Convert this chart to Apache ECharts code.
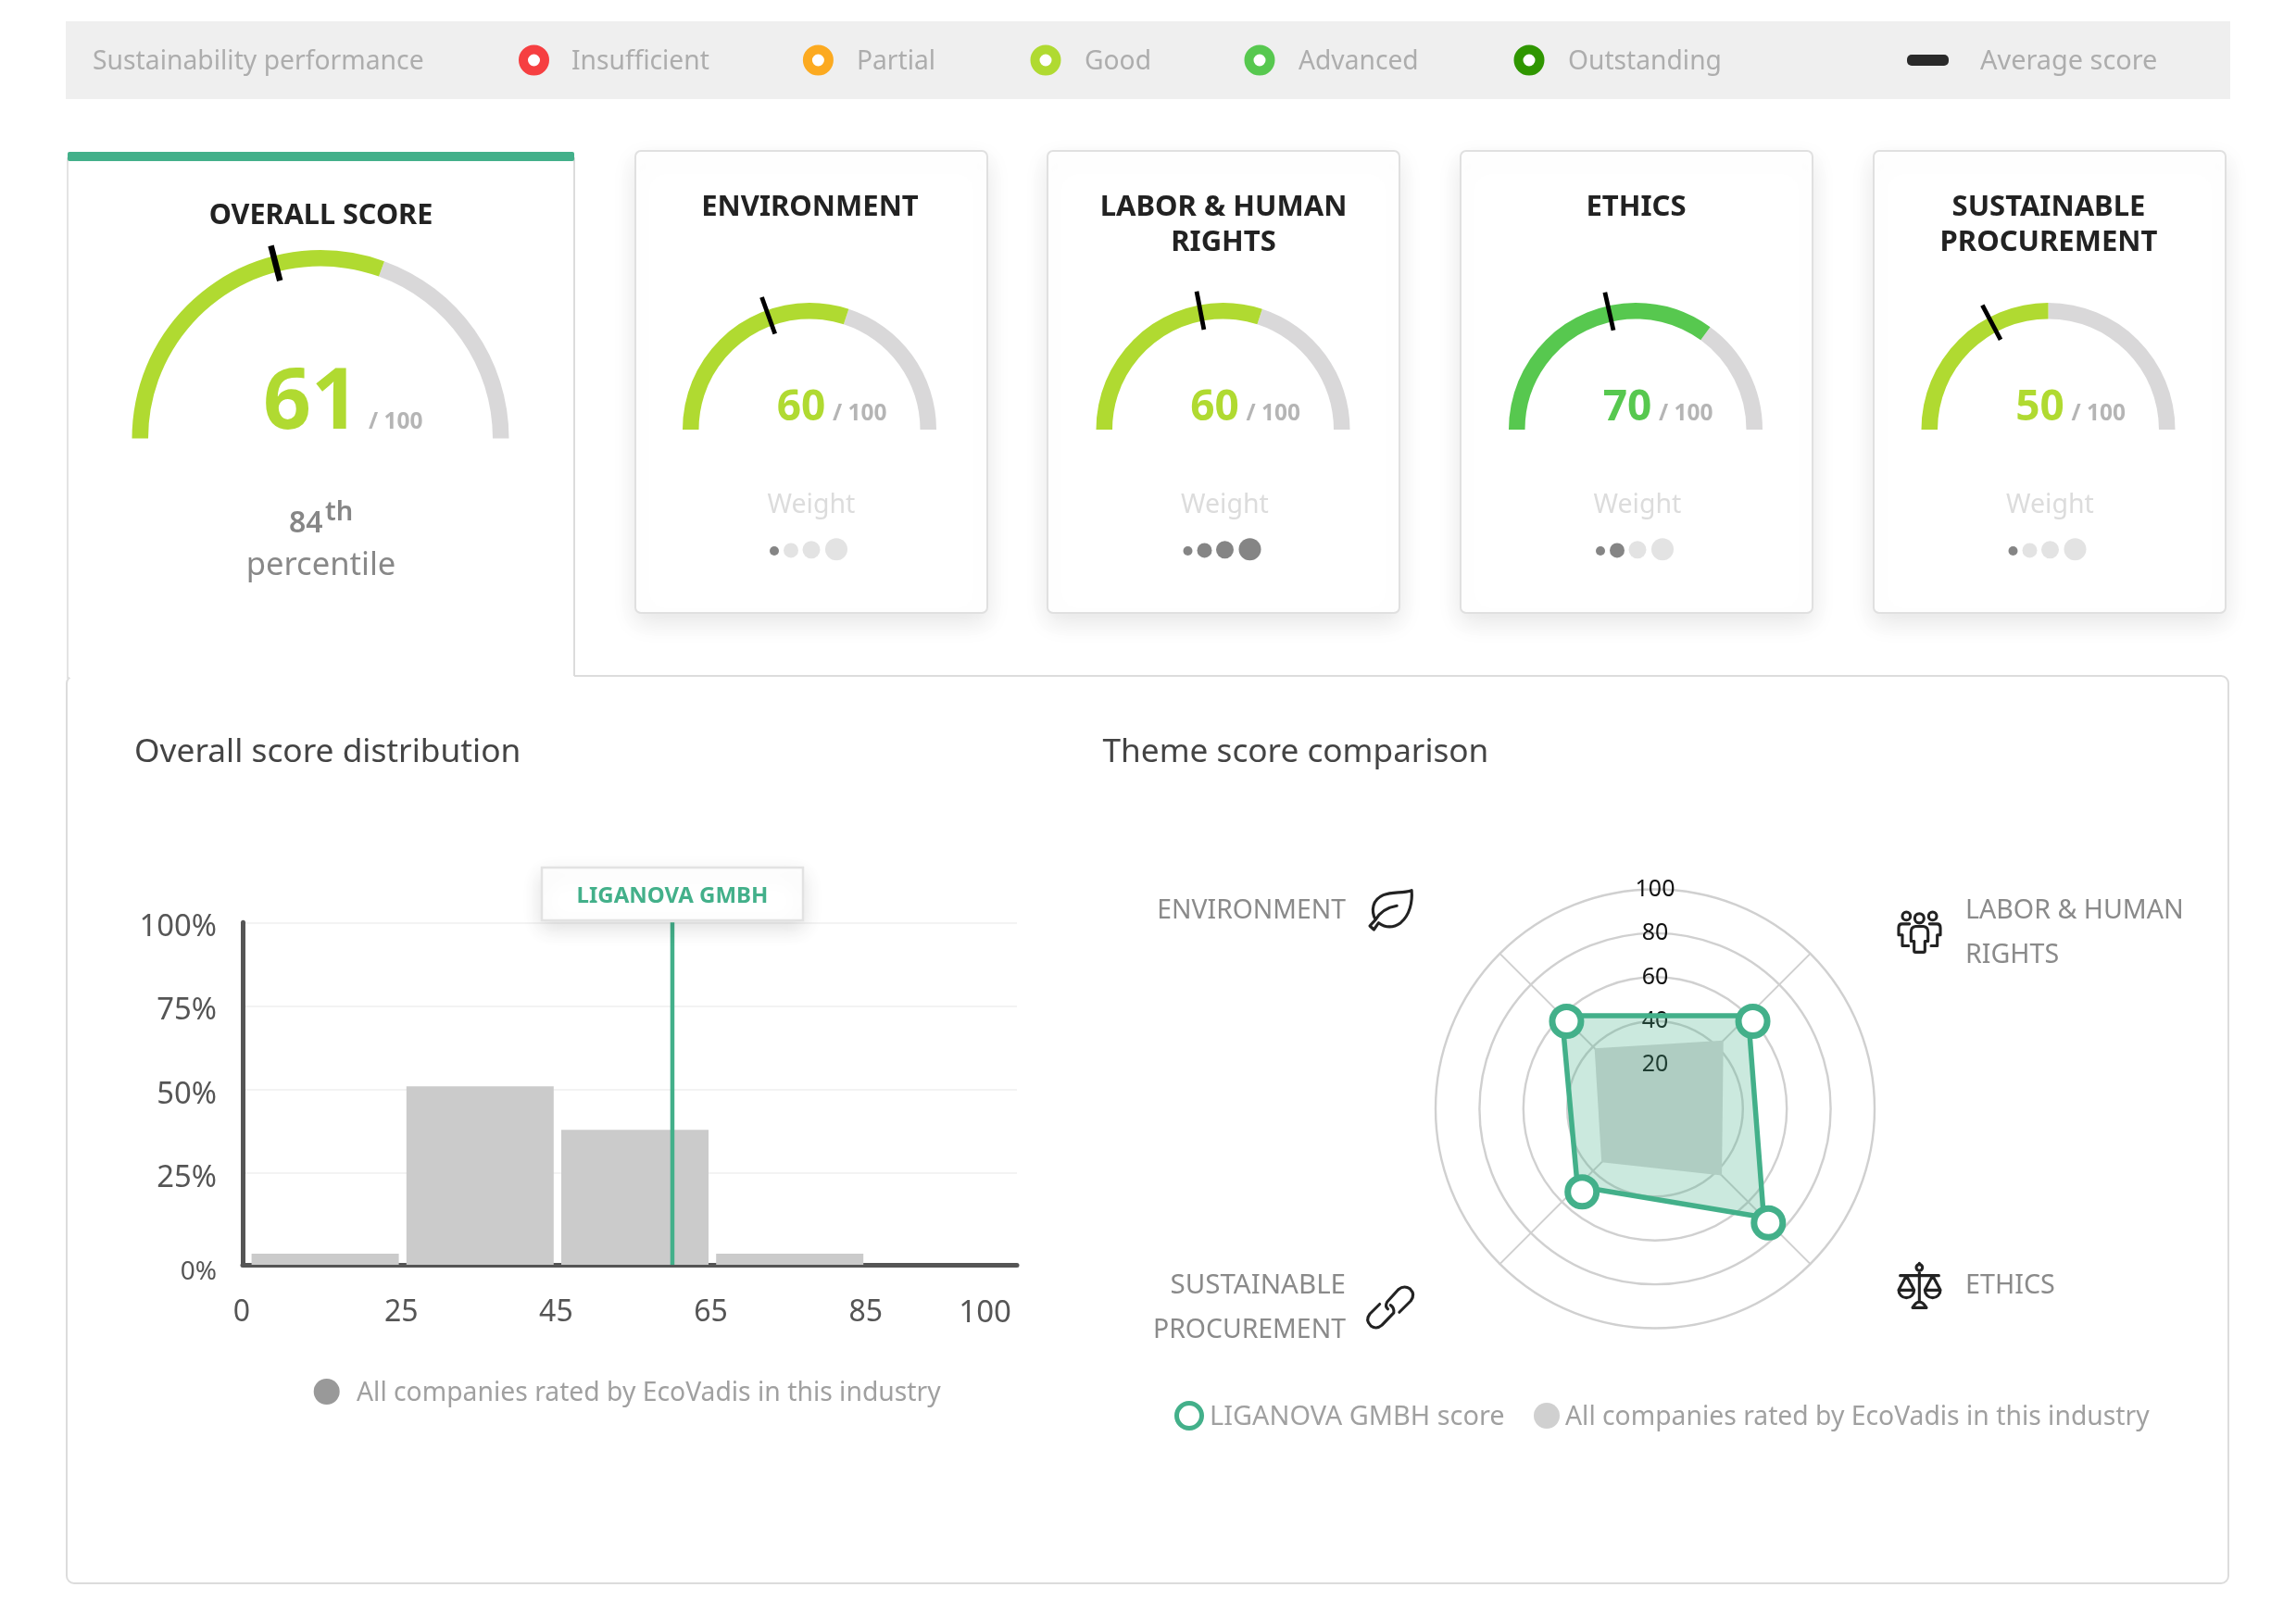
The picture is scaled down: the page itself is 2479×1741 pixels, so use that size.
<!DOCTYPE html>
<html>
<head>
<meta charset="utf-8">
<style>html,body{margin:0;padding:0;background:#fff}#c{width:2479px;height:1741px}</style>
<script src="https://cdn.jsdelivr.net/npm/echarts@6/dist/echarts.min.js"></script>
</head>
<body>
<div id="c"></div>
<script>
// ---- data ----
const legendItems = ['Insufficient','Partial','Good','Advanced','Outstanding'];
const legendColors = ['#f63f41','#fcaa20','#b0da31','#57c84f','#2f9600'];
const themes = ['ENVIRONMENT','LABOR & HUMAN RIGHTS','ETHICS','SUSTAINABLE PROCUREMENT'];
const themeTitleLines = [['ENVIRONMENT'],['LABOR & HUMAN','RIGHTS'],['ETHICS'],['SUSTAINABLE','PROCUREMENT']];
const themeScores = [60,60,70,50];
const themeAverages = [39,44,43,34.5];
const themeWeights = [1,4,2,1];
const overallScore = 61;
const overallAverage = 42;
const percentile = '84';
const histBins = ['0-25','25-45','45-65','65-85','85-100'];
const histValues = [1,51,38,1,null];
const histTicks = ['0','25','45','65','85','100'];
const histYTicks = [0,25,50,75,100];
const companyBinPosition = 2.742;
const companyName = 'LIGANOVA GMBH';
// the radar runs counter-clockwise from the upper left: ENV, SUST, ETHICS, LABOR
const radarOrder = [0,3,2,1];

// ---- style ----
const FONT = '"Noto Sans"';
const TEAL = '#43b08a', TRACK = '#d9d8d9';
const scoreColor = s => s >= 75 ? legendColors[4] : s >= 65 ? legendColors[3] : s >= 45 ? legendColors[2] : s >= 25 ? legendColors[1] : legendColors[0];

const g = [];
const T = (x,y,text,size,fill,o) => g.push(Object.assign({type:'text',x,y,z:6,silent:true,style:Object.assign({text,fontSize:size,fontFamily:FONT,fill,align:'left',verticalAlign:'middle'},o||{})}));
const box = (x,y,w,h,style,r,z) => g.push({type:'rect',z:z||0,silent:true,shape:{x,y,width:w,height:h,r:r||0},style});
const line = (x1,y1,x2,y2,stroke,lw,z) => g.push({type:'line',z:z||0,silent:true,shape:{x1,y1,x2,y2},style:{stroke,lineWidth:lw}});
const circ = (cx,cy,r,style,z) => g.push({type:'circle',z:z||1,silent:true,shape:{cx,cy,r},style});

// top band
box(71,23,2337,84,{fill:'#efefef'});
T(100,67,'Sustainability performance',28.3,'#adadad');
const legendCx = [576.5,883.4,1129,1360,1651];
const legendTx = [617,925,1171,1402,1693];
legendItems.forEach((n,i)=>{
  circ(legendCx[i],65,11.5,{fill:'#fff',stroke:legendColors[i],lineWidth:10});
  T(legendTx[i],67,n,28.2,'#adadad');
});
box(2059,59,45,12,{fill:'#2a2a2a'},5);
T(2138,67,'Average score',28.9,'#adadad');

// bottom panel
box(72,730,2334,980,{fill:'#fff',stroke:'#dcdcdc',lineWidth:2},8,0);
line(75,730,620,730,'#fff',4,1);

// overall card
line(73,170,73,733,'#e3e3e3',2,1);
line(620,170,620,730,'#dcdcdc',2,1);
box(73,164,547,10,{fill:TEAL},2,2);
T(346.5,233,'OVERALL SCORE',30.6,'#222',{align:'center',fontWeight:700});
T(336,437,String(overallScore),91,scoreColor(overallScore),{align:'center',fontWeight:700});
T(398,456,'/ 100',24.5,'#b5b5b5',{fontWeight:700});
T(312,566,percentile,32,'#868686',{fontWeight:600});
T(351,554,'th',29,'#868686',{fontWeight:600});
T(346.5,611,'percentile',34.6,'#888',{align:'center'});

// theme cards
const cardX = [686,1131,1577,2023];
const gaugeCx = [874,1320.5,1766,2211.5];
themes.forEach((t,i)=>{
  box(cardX[i],163,380,499,{fill:'#fff',stroke:'#e0e0e0',lineWidth:2,shadowBlur:26,shadowOffsetY:10,shadowColor:'rgba(0,0,0,0.10)'},6,1);
  themeTitleLines[i].forEach((l,k)=>T(gaugeCx[i]+0.5,224+38*k,l,31,'#222',{align:'center',fontWeight:700}));
  T(gaugeCx[i]-9,441,String(themeScores[i]),46,scoreColor(themeScores[i]),{align:'center',fontWeight:700});
  T(gaugeCx[i]+25,447,'/ 100',24.5,'#b5b5b5',{fontWeight:700});
  T(gaugeCx[i]+2,546,'Weight',28.5,'#dcdcdc',{align:'center'});
  const dx=[-38,-20,2,29], dr=[5,8,9.5,12];
  dx.forEach((d,k)=>circ(gaugeCx[i]+d,595-k*0.6,dr[k],{fill:k<themeWeights[i]?'#858585':'#e3e3e3'},3));
});

// section titles
T(145,813,'Overall score distribution',35.3,'#444');
T(1190.5,813,'Theme score comparison',35.2,'#444');

// histogram legend and company flag
circ(352.7,1503,14,{fill:'#999'},3);
T(385,1505,'All companies rated by EcoVadis in this industry',28.3,'#a0a0a0');
box(585,937,282,57,{fill:'#fff',stroke:'#e2e2e2',lineWidth:2.5,shadowBlur:22,shadowOffsetY:8,shadowColor:'rgba(0,0,0,0.12)'},0,10);
T(726,968,companyName,24,TEAL,{align:'center',fontWeight:700});
g[g.length-1].z=11;

// radar labels
T(1453,984,'ENVIRONMENT',28.3,'#8a8a8a',{align:'right'});
T(2122,984,'LABOR & HUMAN',28.6,'#8a8a8a');
T(2122,1032,'RIGHTS',28.6,'#8a8a8a');
T(2122,1389,'ETHICS',28.7,'#8a8a8a');
T(1453,1389,'SUSTAINABLE',29.5,'#8a8a8a',{align:'right'});
T(1453,1437,'PROCUREMENT',28.4,'#8a8a8a',{align:'right'});

// radar legend
circ(1284,1529,13.5,{fill:'#fff',stroke:TEAL,lineWidth:5},3);
T(1306,1531,companyName+' score',28.9,'#a0a0a0');
circ(1670,1529,14,{fill:'#d0d0d0'},3);
T(1690,1531,'All companies rated by EcoVadis in this industry',28.3,'#a0a0a0');

// icons: origin of a 70 px box, bounding box inside it in 210-unit space, path in that space
const iconOrigins = [[1465,950],[2040,975],[2040,1355],[1465,1380]];
const iconBoxes = [[42,35,178,162],[30,30,165,160],[30,28,165,172],[35,30,182,162]];
const iconPaths = [
 'M60 130C45 100 50 65 85 50C115 38 145 45 175 35C178 70 170 115 140 140C115 158 90 155 70 140L55 162L42 150L60 130C75 105 100 90 128 85',
 'M42 45A13 13 0 1 1 68 45A13 13 0 1 1 42 45ZM82 52A15 15 0 1 1 112 52A15 15 0 1 1 82 52ZM127 45A13 13 0 1 1 153 45A13 13 0 1 1 127 45ZM70 95Q70 80 85 78H110Q125 80 125 95V125H115V155Q115 160 110 160H85Q80 160 80 155V125H70ZM65 70H40Q30 70 30 82V105H42V140H62M130 70H155Q165 70 165 82V105H155V140H135',
 'M97 55V150M87 42A10 10 0 1 1 107 42A10 10 0 1 1 87 42ZM97 28V30M35 68H160M55 68L30 115M55 68L80 115M30 115A25 25 0 0 0 80 115ZM140 68L115 115M140 68L165 115M115 115A25 25 0 0 0 165 115ZM75 172Q97 135 120 172Z',
 'M75 85L45 115Q30 135 48 152Q65 165 82 150L118 112Q120 95 108 88M135 110L170 75Q185 55 168 38Q150 25 132 40L98 78Q90 92 100 100'
];

// ---- series ----
const gaugeBase = (cx,cy,R,w,val,extra) => Object.assign({
  type:'gauge',center:[cx,cy],radius:R,startAngle:180,endAngle:0,min:0,max:100,z:4,
  axisTick:{show:false},splitLine:{show:false},axisLabel:{show:false},title:{show:false},detail:{show:false},
  anchor:{show:false},silent:true,data:[{value:val}]
},extra);
const arc = (cx,cy,R,w,score) => gaugeBase(cx,cy,R,w,score,{
  pointer:{show:false},
  axisLine:{lineStyle:{width:w,color:[[score/100,scoreColor(score)],[1,TRACK]]}}
});
const tick = (cx,cy,R,avg,r0,r1,w) => gaugeBase(cx,cy,R,w,avg,{
  z:5,axisLine:{show:false},
  pointer:{show:true,icon:'rect',width:w,length:r1-r0,offsetCenter:[0,-r0],itemStyle:{color:'#000'}}
});

const series = [];
series.push(arc(346,473.6,203.5,17.5,overallScore));
series.push(tick(346,473.6,203.5,overallAverage,176,215,6.5));
themes.forEach((t,i)=>{
  series.push(arc(gaugeCx[i],464,137,17.5,themeScores[i]));
  series.push(tick(gaugeCx[i],464,137,themeAverages[i],110,152,4.8));
});

// histogram
series.push({type:'bar',xAxisIndex:1,yAxisIndex:1,data:histValues,barWidth:159,itemStyle:{color:'#cbcbcb'},z:2,silent:true});
series.push({type:'line',xAxisIndex:2,yAxisIndex:1,symbol:'none',silent:true,z:4,lineStyle:{color:TEAL,width:4.5},
  data:[[companyBinPosition,-2.35],[companyBinPosition,100]]});

// radar
const order = a => radarOrder.map(i=>a[i]);
series.push({type:'radar',radarIndex:0,z:1,silent:true,symbol:'none',lineStyle:{width:0},
  areaStyle:{color:'#d9d9d9',opacity:1},data:[{value:order(themeAverages),name:'All companies rated by EcoVadis in this industry'}]});
series.push({type:'radar',radarIndex:0,z:3,silent:true,symbol:'none',
  lineStyle:{color:TEAL,width:5.5},
  areaStyle:{color:TEAL,opacity:0.28},data:[{value:order(themeScores),name:companyName+' score'}]});
// markers sit slightly off the polygon corners in the reference, so they use a second, hidden radar
series.push({type:'radar',radarIndex:1,z:3,silent:true,symbol:'circle',symbolSize:31,
  lineStyle:{width:0,opacity:0},itemStyle:{color:'#fff',borderColor:TEAL,borderWidth:7},
  data:[{value:order(themeScores),name:companyName+' score markers'}]});

// theme icons
series.push({type:'custom',coordinateSystem:'none',silent:true,z:6,data:iconPaths.map((p,i)=>i),
  renderItem:(params,api)=>{
    const i=api.value(0), o=iconOrigins[i], b=iconBoxes[i];
    return {type:'path',shape:{pathData:iconPaths[i],x:o[0]+b[0]/3,y:o[1]+b[1]/3,width:(b[2]-b[0])/3,height:(b[3]-b[1])/3,layout:'cover'},
      style:{fill:'none',stroke:'#222',lineWidth:3.1,lineCap:'round',lineJoin:'round'}};
  }});

const radarIndicators = order(themes).map(name=>({name,max:100,min:0}));
const option = {
  animation:false,
  backgroundColor:'#fff',
  textStyle:{fontFamily:FONT},
  graphic:{elements:g},
  grid:[
    {left:262,top:996.3,width:836,height:369.7},
    {left:267.5,top:996.3,width:836,height:369.7},
    {left:1787,top:960.7,width:1,height:236.8}
  ],
  xAxis:[
    {type:'category',gridIndex:0,boundaryGap:false,data:histTicks,
      axisLine:{onZero:false,lineStyle:{color:'#555',width:5}},axisTick:{show:false},splitLine:{show:false},
      axisLabel:{color:'#555',fontSize:32,fontFamily:FONT,margin:36,interval:0,padding:[0,0,0,8],alignMaxLabel:'right',
        formatter:v=>v==='0'?'{z|0}':v==='100'?'{m|100}':v,
        rich:{z:{fontSize:32,fontFamily:FONT,color:'#555',padding:[0,10,10,0]},m:{fontSize:33,fontFamily:FONT,color:'#555',padding:[0,6,0,0]}}}},
    {type:'category',gridIndex:1,data:histBins,show:false},
    {type:'value',gridIndex:1,min:0,max:5,show:false},
    {type:'value',gridIndex:2,min:0,max:1,show:false}
  ],
  yAxis:[
    {type:'value',gridIndex:0,min:-2.35,max:100,
      axisLine:{show:true,onZero:false,lineStyle:{color:'#555',width:5}},
      axisTick:{show:false,customValues:histYTicks.slice(1)},
      splitLine:{show:true,lineStyle:{color:'#f3f3f3',width:2}},
      axisLabel:{customValues:histYTicks,color:'#555',fontSize:32.8,fontFamily:FONT,margin:28,padding:[11,0,0,0],
        formatter:v=>v===0?'{z|0%}':v+'%',rich:{z:{fontSize:28,fontFamily:FONT,color:'#555',padding:[22,0,0,0]}}}},
    {type:'value',gridIndex:1,min:-2.35,max:100,startValue:-2.35,show:false,splitLine:{show:false}},
    {type:'value',gridIndex:2,min:0,max:100,interval:20,z:2,
      axisLine:{show:false},axisTick:{show:false},splitLine:{show:false},
      axisLabel:{show:true,color:'#111',fontSize:25,fontFamily:FONT,align:'center',margin:0,formatter:v=>v===0?'':String(v)}}
  ],
  radar:[{
    center:[1787,1197.5],radius:237,startAngle:135,shape:'circle',splitNumber:5,z:0,
    indicator:radarIndicators,
    axisName:{show:false},
    axisLine:{lineStyle:{color:'#d0d0d0',width:2}},
    splitLine:{lineStyle:{color:'#d0d0d0',width:2.4}},
    splitArea:{show:false},axisTick:{show:false},axisLabel:{show:false}
  },{
    center:[1792,1203.5],radius:237,startAngle:135,shape:'circle',splitNumber:5,z:0,
    indicator:radarIndicators,
    axisName:{show:false},axisLine:{show:false},splitLine:{show:false},
    splitArea:{show:false},axisTick:{show:false},axisLabel:{show:false}
  }],
  series
};
const chart = echarts.init(document.getElementById('c'),null,{renderer:'canvas',width:2479,height:1741,devicePixelRatio:1});
chart.setOption(option);
</script>
</body>
</html>
